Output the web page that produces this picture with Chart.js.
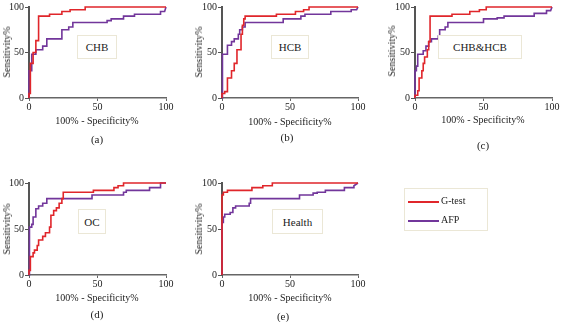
<!DOCTYPE html>
<html><head><meta charset="utf-8">
<script src="https://cdn.jsdelivr.net/npm/chart.js@4.4.1/dist/chart.umd.min.js"></script>
<style>
html,body{margin:0;padding:0;width:562px;height:322px;overflow:hidden;background:#fff;font-family:'Liberation Serif','Times New Roman',serif;color:#222}
canvas{position:absolute}
.t{position:absolute;white-space:nowrap;font-size:10px;line-height:1;transform:translate(-50%,-50%)}
.ty{transform:translate(-50%,-50%) rotate(-90deg)}
.cap{font-size:11px}
.box{position:absolute;border:1px solid #ebe7d6;box-sizing:border-box;display:flex;align-items:center;justify-content:center;font-size:11px;background:#fff}
.leg{position:absolute;left:404px;top:188px;width:84px;height:43px;border:1px solid #ebe7d6;box-sizing:border-box;font-size:10px}
.li{position:absolute;left:3px;width:31px;height:2px}
.lt{position:absolute;left:36px;line-height:1}
</style></head><body>
<script>
// ===== Data: ROC curve vertices (100% - Specificity%, Sensitivity%) =====
const panelNames = ['CHB', 'HCB', 'CHB&HCB', 'OC', 'Health'];
const panelCaptions = ['(a)', '(b)', '(c)', '(d)', '(e)'];
const seriesNames = ['G-test', 'AFP'];
const xTicks = [0, 50, 100];
const yTicks = [0, 50, 100];

// (a) CHB
const chbGtestX = [0,0,1,1,3,3,5,5,7,7,15,15,24,24,30,30,41,41,100];
const chbGtestY = [0,5,5,38,38,50,50,63,63,90,90,92,92,95,95,97,97,100,100];
const chbAfpX = [0,0,2,2,5,5,10,10,13,13,24,24,29,29,32,32,57,57,60,60,69,69,77,77,96,96,99,100];
const chbAfpY = [0,30,30,48,48,53,53,57,57,65,65,75,75,78,78,83,83,85,85,87,87,90,90,92,92,95,95,100];

// (b) HCB
const hcbGtestX = [0,0,2,2,4,4,7,7,9,9,11,11,14,14,15,15,16,16,17,17,40,40,54,54,60,60,64,64,100];
const hcbGtestY = [0,5,5,7,7,22,22,30,30,38,38,53,53,70,70,80,80,87,87,90,90,92,92,95,95,97,97,100,100];
const hcbAfpX = [0,0,0.5,0.5,4,4,7,7,9,9,12,12,13,13,15,15,17,17,45,45,58,58,61,61,80,80,95,95,99,100];
const hcbAfpY = [0,35,35,48,48,58,58,62,62,65,65,70,70,75,75,78,78,83,83,87,87,90,90,92,92,95,95,97,97,100];

// (c) CHB&HCB
const bothGtestX = [0,0,2,2,3,3,5,5,6,6,7,7,9,9,10,10,11,11,27,27,40,40,47,47,52,52,100];
const bothGtestY = [0,3,3,8,8,22,22,30,30,38,38,45,45,53,53,62,62,90,90,92,92,95,95,97,97,100,100];
const bothAfpX = [0,0,1,1,2,2,6,6,8,8,10,10,12,12,17,17,18,18,22,22,24,24,50,50,60,60,65,65,87,87,96,96,99,100];
const bothAfpY = [0,30,30,35,35,48,48,52,52,57,57,62,62,65,65,68,68,75,75,78,78,83,83,87,87,88,88,90,90,93,93,96,96,100];

// (d) OC
const ocGtestX = [0,0,1,1,3,3,4,4,6,6,7,7,10,10,12,12,15,15,16,16,18,18,20,20,22,22,24,24,25,25,47,47,62,62,65,65,69,69,100];
const ocGtestY = [0,5,5,20,20,24,24,27,27,32,32,38,38,42,42,46,46,52,52,65,65,70,70,73,73,78,78,83,83,90,90,92,92,95,95,97,97,100,100];
const ocAfpX = [0,0,0.5,0.5,2,2,3,3,5,5,7,7,10,10,13,13,46,46,69,69,71,71,88,88,96,96,100];
const ocAfpY = [0,40,40,52,52,55,55,63,63,72,72,75,75,78,78,83,83,87,87,90,90,92,92,95,95,100,100];

// (e) Health
const healthGtestX = [0,0,1,1,4,4,22,22,30,30,37,37,100];
const healthGtestY = [0,87,87,90,90,92,92,95,95,97,97,100,100];
const healthAfpX = [0,0,1,1,2,2,6,6,8,8,10,10,20,20,21,21,57,57,67,67,70,70,76,76,90,90,97,97,100];
const healthAfpY = [0,57,57,63,63,66,66,68,68,73,73,75,75,78,78,83,83,87,87,89,89,90,90,92,92,95,95,97,100];

const gtestXs = [chbGtestX, hcbGtestX, bothGtestX, ocGtestX, healthGtestX];
const gtestYs = [chbGtestY, hcbGtestY, bothGtestY, ocGtestY, healthGtestY];
const afpXs = [chbAfpX, hcbAfpX, bothAfpX, ocAfpX, healthAfpX];
const afpYs = [chbAfpY, hcbAfpY, bothAfpY, ocAfpY, healthAfpY];

// ===== Layout / style =====
const RED = '#e0262b', PURPLE = '#72369b';
const plots = [ // plot area: left, right, top, bottom
  {L:29, R:166, T:7, B:98, cap:[97,139], xt:[97,121], yt:[7,52], box:[77,35,40,24]},
  {L:222, R:358, T:7, B:98, cap:[287,137], xt:[290,122], yt:[199,52], box:[271,35,38,24]},
  {L:415, R:552, T:7, B:98, cap:[483,145], xt:[483,120], yt:[392,51], box:[438,35,84,24]},
  {L:29, R:166, T:183, B:275, cap:[97,314], xt:[97,298], yt:[7,229], box:[78,209,28,25]},
  {L:222, R:358, T:183, B:275, cap:[283,316], xt:[290,298], yt:[199,229], box:[272,209,51,25]}
];
const PAD_L = 10, WY = 20, PAD_T = 12, PAD_R = 10, HX = 16, PAD_B = 4;
const FONT = {family: "'Liberation Serif','Times New Roman',serif", size: 10};

function zip(xs, ys) { return xs.map((x, i) => ({x: x, y: ys[i]})); }
function addText(txt, x, y, cls) {
  const d = document.createElement('div');
  d.className = 't ' + (cls || '');
  d.textContent = txt;
  d.style.left = x + 'px'; d.style.top = y + 'px';
  document.body.appendChild(d);
}

plots.forEach((p, i) => {
  const c = document.createElement('canvas');
  const w = (p.R - p.L) + PAD_L + WY + PAD_R;
  const h = PAD_T + (p.B - p.T) + HX + PAD_B;
  c.width = w; c.height = h;
  c.style.width = w + 'px'; c.style.height = h + 'px';
  c.style.left = (p.L - PAD_L - WY) + 'px';
  c.style.top = (p.T - PAD_T) + 'px';
  document.body.appendChild(c);

  new Chart(c.getContext('2d'), {
    type: 'scatter',
    data: {datasets: [
      {label: seriesNames[0], data: zip(gtestXs[i], gtestYs[i]), showLine: true, borderColor: RED, backgroundColor: RED, borderWidth: 1.6, pointRadius: 0, tension: 0, clip: 5},
      {label: seriesNames[1], data: zip(afpXs[i], afpYs[i]), showLine: true, borderColor: PURPLE, backgroundColor: PURPLE, borderWidth: 1.6, pointRadius: 0, tension: 0, clip: 5}
    ]},
    options: {
      responsive: false, animation: false, devicePixelRatio: 1,
      layout: {padding: {left: PAD_L, top: PAD_T, right: PAD_R, bottom: PAD_B}},
      plugins: {legend: {display: false}, tooltip: {enabled: false}},
      scales: {
        x: {type: 'linear', min: 0, max: 100,
            afterBuildTicks: s => { s.ticks = xTicks.map(v => ({value: v})); },
            ticks: {font: FONT, color: '#222', padding: 0, maxRotation: 0, autoSkip: false},
            grid: {drawOnChartArea: false, tickLength: 3, color: '#666', lineWidth: 1},
            border: {color: '#666', width: 1.5},
            afterFit: s => { s.height = HX; }},
        y: {type: 'linear', min: 0, max: 100,
            afterBuildTicks: s => { s.ticks = yTicks.map(v => ({value: v})); },
            ticks: {font: FONT, color: '#222', padding: 1, autoSkip: false},
            grid: {drawOnChartArea: false, tickLength: 4, color: '#555', lineWidth: 1},
            border: {color: '#555', width: 2},
            afterFit: s => { s.width = WY; }}
      }
    }
  });

  addText('Sensitivity%', p.yt[0], p.yt[1], 'ty');
  addText('100% - Specificity%', p.xt[0], p.xt[1]);
  addText(panelCaptions[i], p.cap[0], p.cap[1], 'cap');
  const b = document.createElement('div');
  b.className = 'box';
  b.textContent = panelNames[i];
  b.style.left = p.box[0] + 'px'; b.style.top = p.box[1] + 'px';
  b.style.width = p.box[2] + 'px'; b.style.height = p.box[3] + 'px';
  document.body.appendChild(b);
});

// Legend
const leg = document.createElement('div');
leg.className = 'leg';
[[RED, 13], [PURPLE, 32]].forEach((it, k) => {
  const l = document.createElement('div');
  l.className = 'li'; l.style.background = it[0]; l.style.top = (it[1] - 1) + 'px';
  leg.appendChild(l);
  const t = document.createElement('div');
  t.className = 'lt'; t.textContent = seriesNames[k]; t.style.top = (it[1] - 6) + 'px';
  leg.appendChild(t);
});
document.body.appendChild(leg);
</script>
</body></html>
